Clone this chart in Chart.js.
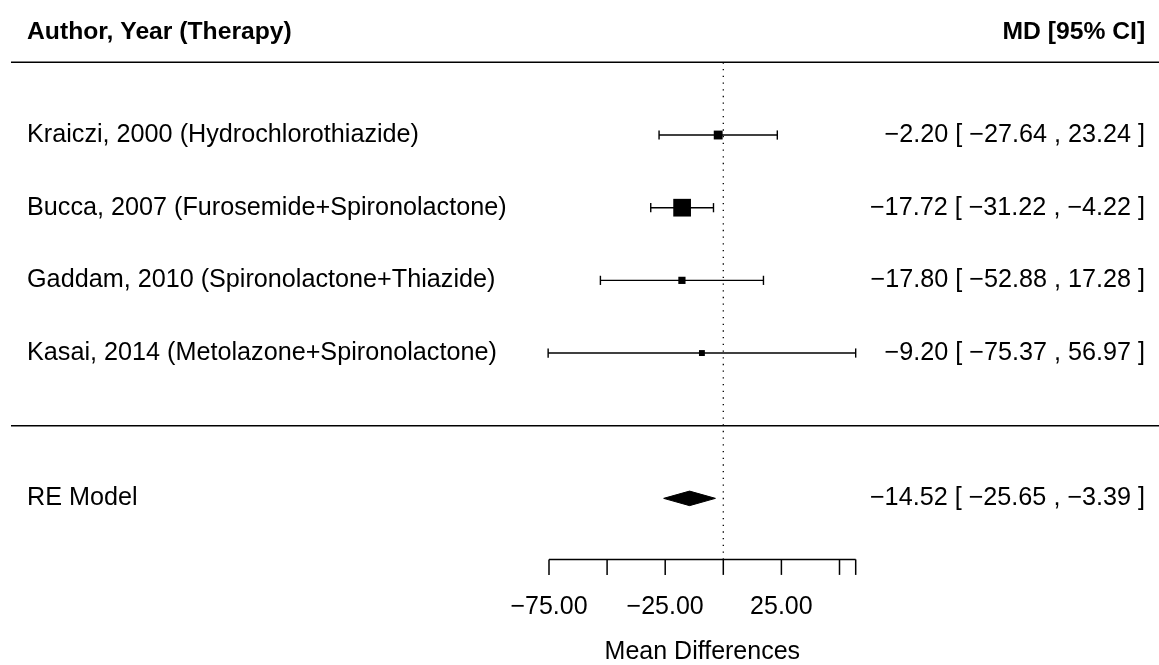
<!DOCTYPE html>
<html>
<head>
<meta charset="utf-8">
<script src="https://cdn.jsdelivr.net/npm/chart.js@4.4.1/dist/chart.umd.min.js"></script>
<style>
  html, body { margin: 0; padding: 0; background: #fff; }
  #wrap { width: 1159px; height: 665px; }
</style>
</head>
<body>
<div id="wrap"><canvas id="forest"></canvas></div>
<script>
// data
const studies = [
  'Kraiczi, 2000 (Hydrochlorothiazide)',
  'Bucca, 2007 (Furosemide+Spironolactone)',
  'Gaddam, 2010 (Spironolactone+Thiazide)',
  'Kasai, 2014 (Metolazone+Spironolactone)'
];
const md    = [-2.20, -17.72, -17.80, -9.20];
const lower = [-27.64, -31.22, -52.88, -75.37];
const upper = [23.24, -4.22, 17.28, 56.97];

const pooledLabel = 'RE Model';
const pooledEst = -14.52;
const pooledLow = -25.65;
const pooledUp  = -3.39;

const tickValues = [-75, -50, -25, 0, 25, 50, 56.97];
const tickLabels = ['\u221275.00', '', '\u221225.00', '', '25.00', '', ''];

const headerLeft  = 'Author, Year (Therapy)';
const headerRight = 'MD [95% CI]';
const xTitle = 'Mean Differences';

// layout (row units on y, data units on x)
const k = studies.length;
const rows = studies.map((s, i) => k - i);
const pooledRow = -1;
const axisRow = -1.84;
const headerRow = 5.42;
const tickLabelRow = -2.5;
const titleRow = -3.11;
const leftTextX = -299.6;
const rightTextX = 181.5;
const lineStartX = -306.5;
const X_MIN = -311.23, X_MAX = 187.48;
const Y_MIN = -3.293, Y_MAX = 5.858;

const fmt = v => (v < 0 ? '\u2212' : '') + Math.abs(v).toFixed(2);

// square size from inverse-variance weights (metafor style: 0.5 .. 1.5)
const w = lower.map((lo, i) => { const se = (upper[i] - lo) / 3.92; return 1 / (se * se); });
const wMin = Math.min(...w), wMax = Math.max(...w);
const psize = w.map(v => 0.5 + (v - wMin) / (wMax - wMin));
const sqRadius = psize.map(p => (11.8 * p) / Math.SQRT2);

const black = '#000';
const datasets = [];

// dotted reference line at 0
datasets.push({
  type: 'line', data: [{ x: 0, y: k + 1 }, { x: 0, y: axisRow }],
  borderColor: black, borderWidth: 1.3, borderDash: [1.3, 5.4], pointRadius: 0
});
// separator lines
[k + 1, 0].forEach(r => datasets.push({
  type: 'line', data: [{ x: lineStartX, y: r }, { x: X_MAX, y: r }],
  borderColor: black, borderWidth: 1.5, pointRadius: 0
}));
// CI lines
studies.forEach((s, i) => datasets.push({
  type: 'line', data: [{ x: lower[i], y: rows[i] }, { x: upper[i], y: rows[i] }],
  borderColor: black, borderWidth: 1.4, pointRadius: 0
}));
// CI caps
datasets.push({
  type: 'scatter',
  data: studies.flatMap((s, i) => [{ x: lower[i], y: rows[i] }, { x: upper[i], y: rows[i] }]),
  pointStyle: 'line', rotation: 90, pointRadius: 4.6, borderWidth: 1.4, borderColor: black
});
// point estimates
datasets.push({
  type: 'scatter',
  data: studies.map((s, i) => ({ x: md[i], y: rows[i] })),
  pointStyle: 'rect', pointRadius: sqRadius, backgroundColor: black, borderWidth: 0
});
// pooled diamond
const dh = 0.1;
datasets.push({
  type: 'line',
  data: [
    { x: pooledLow, y: pooledRow }, { x: pooledEst, y: pooledRow + dh },
    { x: pooledUp, y: pooledRow }, { x: pooledEst, y: pooledRow - dh },
    { x: pooledLow, y: pooledRow }
  ],
  borderColor: black, borderWidth: 1, backgroundColor: black, fill: 'shape', pointRadius: 0, tension: 0
});
// x axis line
datasets.push({
  type: 'line', data: [{ x: tickValues[0], y: axisRow }, { x: tickValues[tickValues.length - 1], y: axisRow }],
  borderColor: black, borderWidth: 1.5, pointRadius: 0
});

const textPlugin = {
  id: 'forestText',
  afterDatasetsDraw(chart) {
    const { ctx, scales: { x, y } } = chart;
    ctx.save();
    ctx.fillStyle = black;
    ctx.strokeStyle = black;
    // tick marks
    ctx.lineWidth = 1.5;
    const ay = y.getPixelForValue(axisRow);
    tickValues.forEach(v => {
      const px = x.getPixelForValue(v);
      ctx.beginPath(); ctx.moveTo(px, ay); ctx.lineTo(px, ay + 15.5); ctx.stroke();
    });
    ctx.textBaseline = 'middle';
    // header
    ctx.font = 'bold 24.7px "Liberation Sans", Arial, sans-serif';
    ctx.textAlign = 'left';
    ctx.fillText(headerLeft, x.getPixelForValue(leftTextX), y.getPixelForValue(headerRow));
    ctx.textAlign = 'right';
    ctx.fillText(headerRight, x.getPixelForValue(rightTextX), y.getPixelForValue(headerRow));
    // study rows
    ctx.font = '25.2px "Liberation Sans", Arial, sans-serif';
    studies.forEach((s, i) => {
      const py = y.getPixelForValue(rows[i]);
      ctx.textAlign = 'left';
      ctx.fillText(s, x.getPixelForValue(leftTextX), py);
      ctx.textAlign = 'right';
      ctx.fillText(`${fmt(md[i])} [ ${fmt(lower[i])} , ${fmt(upper[i])} ]`, x.getPixelForValue(rightTextX), py);
    });
    const pr = y.getPixelForValue(pooledRow);
    ctx.textAlign = 'left';
    ctx.fillText(pooledLabel, x.getPixelForValue(leftTextX), pr);
    ctx.textAlign = 'right';
    ctx.fillText(`${fmt(pooledEst)} [ ${fmt(pooledLow)} , ${fmt(pooledUp)} ]`, x.getPixelForValue(rightTextX), pr);
    // tick labels and title
    ctx.font = '25px "Liberation Sans", Arial, sans-serif';
    ctx.textAlign = 'center';
    tickValues.forEach((v, i) => {
      if (tickLabels[i]) ctx.fillText(tickLabels[i], x.getPixelForValue(v), y.getPixelForValue(tickLabelRow));
    });
    const mid = (tickValues[0] + tickValues[tickValues.length - 1]) / 2;
    ctx.fillText(xTitle, x.getPixelForValue(mid), y.getPixelForValue(titleRow));
    ctx.restore();
  }
};

new Chart(document.getElementById('forest').getContext('2d'), {
  type: 'scatter',
  data: { datasets },
  options: {
    responsive: true,
    maintainAspectRatio: false,
    animation: false,
    layout: { padding: 0, autoPadding: false },
    plugins: { legend: { display: false }, tooltip: { enabled: false } },
    scales: {
      x: { type: 'linear', min: X_MIN, max: X_MAX, display: false },
      y: { type: 'linear', min: Y_MIN, max: Y_MAX, display: false }
    }
  },
  plugins: [textPlugin]
});
</script>
</body>
</html>
